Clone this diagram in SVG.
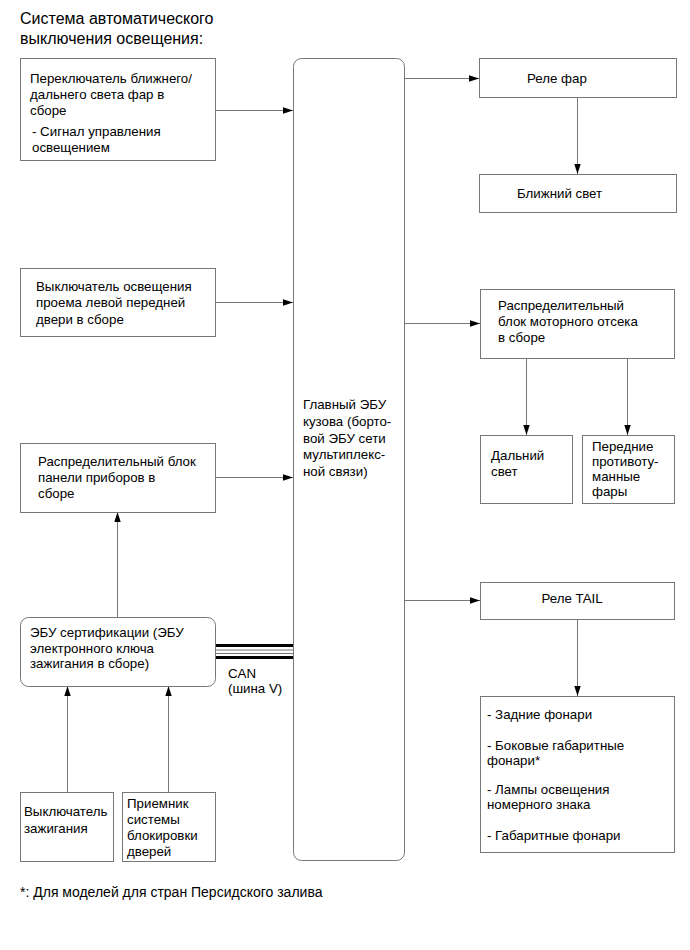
<svg xmlns="http://www.w3.org/2000/svg" width="690" height="950" viewBox="0 0 690 950">
<style>
text{font-family:"Liberation Sans",Arial,sans-serif;font-size:13.3px;fill:#000}
.t{font-size:16px}
.f{font-size:14px}
.b{fill:#fff;stroke:#777;stroke-width:1}
.c{fill:none;stroke:#777;stroke-width:1}
</style>
<defs>
<marker id="a" markerWidth="10" markerHeight="8" refX="10" refY="4" orient="auto" markerUnits="userSpaceOnUse">
<path d="M0,0.8 L10,4 L0,7.2 Z" fill="#000"/>
</marker>
</defs>
<rect width="690" height="950" fill="#fff"/>
<text class="t" x="20" y="24">Система автоматического</text>
<text class="t" x="20" y="44">выключения освещения:</text>

<g id="connectors">
<line class="c" x1="215.5" y1="110.5" x2="293" y2="110.5" marker-end="url(#a)"/>
<line class="c" x1="215.5" y1="302.5" x2="293" y2="302.5" marker-end="url(#a)"/>
<line class="c" x1="215.5" y1="477.5" x2="293" y2="477.5" marker-end="url(#a)"/>
<line class="c" x1="404.5" y1="78.5" x2="479" y2="78.5" marker-end="url(#a)"/>
<line class="c" x1="577.5" y1="97.5" x2="577.5" y2="174" marker-end="url(#a)"/>
<line class="c" x1="404.5" y1="323.5" x2="480" y2="323.5" marker-end="url(#a)"/>
<line class="c" x1="526.5" y1="358.5" x2="526.5" y2="435" marker-end="url(#a)"/>
<line class="c" x1="627.5" y1="358.5" x2="627.5" y2="435" marker-end="url(#a)"/>
<line class="c" x1="404.5" y1="600.5" x2="480" y2="600.5" marker-end="url(#a)"/>
<line class="c" x1="577.5" y1="619.5" x2="577.5" y2="696" marker-end="url(#a)"/>
<line class="c" x1="117.5" y1="617" x2="117.5" y2="512" marker-end="url(#a)"/>
<line class="c" x1="67.5" y1="792" x2="67.5" y2="686" marker-end="url(#a)"/>
<line class="c" x1="168.5" y1="792" x2="168.5" y2="686" marker-end="url(#a)"/>
<g id="can">
<line x1="215" y1="645.5" x2="293" y2="645.5" stroke="#000" stroke-width="3"/>
<line x1="215" y1="650" x2="293" y2="650" stroke="#777" stroke-width="1"/>
<line x1="215" y1="653.5" x2="293" y2="653.5" stroke="#777" stroke-width="1"/>
<line x1="215" y1="657.5" x2="293" y2="657.5" stroke="#000" stroke-width="3"/>
<text x="228" y="678">CAN</text>
<text x="228" y="693">(шина V)</text>
</g>
</g>

<g id="sw-headlight">
<rect class="b" x="20.5" y="58.5" width="195" height="102"/>
<text x="30" y="83">Переключатель ближнего/</text>
<text x="30" y="99">дальнего света фар в</text>
<text x="30" y="115">сборе</text>
<text x="32" y="136">- Сигнал управления</text>
<text x="32" y="152">освещением</text>
</g>

<g id="sw-door">
<rect class="b" x="20.5" y="268.5" width="195" height="68"/>
<text x="36" y="291">Выключатель освещения</text>
<text x="36" y="307">проема левой передней</text>
<text x="36" y="324">двери в сборе</text>
</g>

<g id="jb-panel">
<rect class="b" x="20.5" y="443.5" width="195" height="69"/>
<text x="38" y="466">Распределительный блок</text>
<text x="38" y="482">панели приборов в</text>
<text x="38" y="498">сборе</text>
</g>

<g id="ecu-cert">
<rect class="b" x="20.5" y="617.5" width="195" height="69" rx="8"/>
<text x="30" y="637">ЭБУ сертификации (ЭБУ</text>
<text x="30" y="653">электронного ключа</text>
<text x="30" y="668">зажигания в сборе)</text>
</g>

<g id="sw-ign">
<rect class="b" x="20.5" y="792.5" width="93" height="69"/>
<text x="24" y="816">Выключатель</text>
<text x="24" y="833">зажигания</text>
</g>

<g id="door-recv">
<rect class="b" x="122.5" y="792.5" width="93" height="69"/>
<text x="127" y="808">Приемник</text>
<text x="127" y="824">системы</text>
<text x="127" y="840">блокировки</text>
<text x="127" y="856">дверей</text>
</g>

<g id="main-ecu">
<rect class="b" x="293.5" y="58.5" width="111" height="802" rx="8"/>
<text x="303" y="409">Главный ЭБУ</text>
<text x="303" y="426">кузова (борто-</text>
<text x="303" y="443">вой ЭБУ сети</text>
<text x="303" y="459">мультиплекс-</text>
<text x="303" y="476">ной связи)</text>
</g>

<g id="relay-head">
<rect class="b" x="479.5" y="58.5" width="197" height="39"/>
<text x="527" y="83">Реле фар</text>
</g>

<g id="low-beam">
<rect class="b" x="479.5" y="174.5" width="197" height="38"/>
<text x="517" y="198">Ближний свет</text>
</g>

<g id="jb-engine">
<rect class="b" x="480.5" y="289.5" width="194" height="69"/>
<text x="498" y="310">Распределительный</text>
<text x="498" y="326">блок моторного отсека</text>
<text x="498" y="342">в сборе</text>
</g>

<g id="high-beam">
<rect class="b" x="480.5" y="435.5" width="92" height="68"/>
<text x="491" y="460">Дальний</text>
<text x="491" y="476">свет</text>
</g>

<g id="fog">
<rect class="b" x="582.5" y="435.5" width="92" height="68"/>
<text x="592" y="451">Передние</text>
<text x="592" y="466">противоту-</text>
<text x="592" y="481">манные</text>
<text x="592" y="496">фары</text>
</g>

<g id="relay-tail">
<rect class="b" x="480.5" y="582.5" width="194" height="37"/>
<text x="572" y="603" text-anchor="middle">Реле TAIL</text>
</g>

<g id="tail-lamps">
<rect class="b" x="480.5" y="696.5" width="194" height="156"/>
<text x="487" y="719">- Задние фонари</text>
<text x="487" y="750">- Боковые габаритные</text>
<text x="487" y="765">фонари*</text>
<text x="487" y="794">- Лампы освещения</text>
<text x="487" y="809">номерного знака</text>
<text x="487" y="840">- Габаритные фонари</text>
</g>

<text class="f" x="20" y="897">*: Для моделей для стран Персидского залива</text>
</svg>
